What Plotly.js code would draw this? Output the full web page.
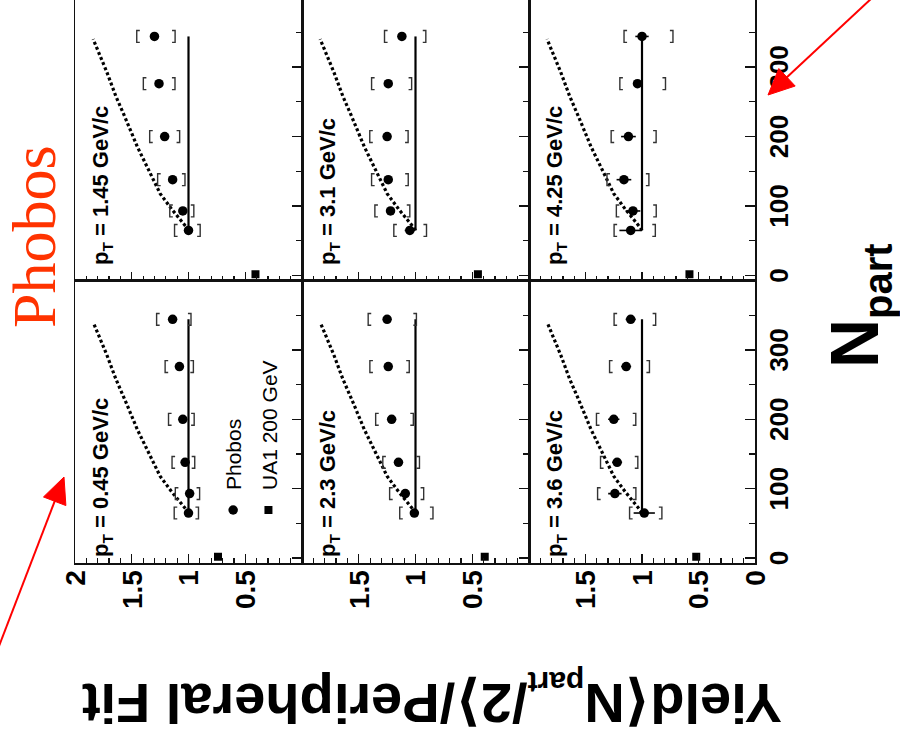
<!DOCTYPE html>
<html>
<head>
<meta charset="utf-8">
<script src="https://cdn.plot.ly/plotly-3.0.1.min.js"></script>
<style>
  html, body { margin: 0; padding: 0; width: 900px; height: 742px; overflow: hidden; background: #fff; }
  #stage { position: absolute; left: 0; top: 0; width: 900px; height: 742px; overflow: hidden; background: #fff; }
  /* the figure is laid out upright (800 x 900) and turned a quarter turn counter-clockwise */
  #chart { position: absolute; left: 0; top: 0; width: 800px; height: 900px;
           transform-origin: 0 0; transform: translate(0, 742px) rotate(-90deg); }
</style>
</head>
<body>
<div id="stage"><div id="chart"></div></div>
<script>
// ---- data ---------------------------------------------------------------
const NPART = [65, 93, 138, 200, 276, 344];
const PT_BINS = ['0.45', '1.45', '2.3', '3.1', '3.6', '4.25'];

// yield / <Npart/2> / peripheral fit, one array per pT bin (ordered as NPART)
const RATIO_PT045 = [1.00, 0.99, 1.03, 1.05, 1.08, 1.14];
const RATIO_PT145 = [1.00, 1.05, 1.14, 1.21, 1.26, 1.30];
const RATIO_PT230 = [1.01, 1.09, 1.15, 1.21, 1.24, 1.25];
const RATIO_PT310 = [1.05, 1.22, 1.24, 1.25, 1.24, 1.12];
const RATIO_PT360 = [0.98, 1.24, 1.22, 1.25, 1.14, 1.10];
const RATIO_PT425 = [1.10, 1.08, 1.16, 1.12, 1.04, 1.00];

// statistical errors
const STAT_PT045 = [0.010, 0.010, 0.010, 0.010, 0.010, 0.010];
const STAT_PT145 = [0.015, 0.015, 0.015, 0.015, 0.015, 0.015];
const STAT_PT230 = [0.020, 0.020, 0.020, 0.020, 0.020, 0.020];
const STAT_PT310 = [0.045, 0.030, 0.030, 0.030, 0.030, 0.030];
const STAT_PT360 = [0.094, 0.059, 0.044, 0.050, 0.044, 0.044];
const STAT_PT425 = [0.100, 0.065, 0.065, 0.065, 0.040, 0.059];

// systematic errors (upper / lower), drawn as brackets
const SYS_UP_PT045 = [0.126, 0.126, 0.115, 0.126, 0.126, 0.141];
const SYS_DN_PT045 = [0.088, 0.088, 0.085, 0.100, 0.123, 0.162];
const SYS_UP_PT145 = [0.123, 0.115, 0.132, 0.132, 0.138, 0.156];
const SYS_DN_PT145 = [0.103, 0.097, 0.109, 0.132, 0.141, 0.182];
const SYS_UP_PT230 = [0.129, 0.138, 0.138, 0.141, 0.162, 0.167];
const SYS_DN_PT230 = [0.164, 0.162, 0.185, 0.191, 0.185, 0.258];
const SYS_UP_PT310 = [0.141, 0.138, 0.147, 0.153, 0.147, 0.153];
const SYS_DN_PT310 = [0.147, 0.170, 0.176, 0.185, 0.206, 0.211];
const SYS_UP_PT360 = [0.130, 0.153, 0.147, 0.153, 0.147, 0.147];
const SYS_DN_PT360 = [0.156, 0.186, 0.183, 0.195, 0.206, 0.221];
const SYS_UP_PT425 = [0.147, 0.147, 0.150, 0.153, 0.156, 0.159];
const SYS_DN_PT425 = [0.218, 0.206, 0.221, 0.245, 0.248, 0.274];

// UA1 p+pbar at 200 GeV, one value per pT bin (ordered as PT_BINS)
const UA1_NPART = 2;
const UA1_RATIO = [0.74, 0.41, 0.39, 0.45, 0.52, 0.58];

// Ncoll scaling expectation (dotted curve) and Npart scaling (solid line)
const NCOLL_NPART = [65, 70, 82, 96, 118, 152, 185, 228, 258, 293, 317, 340];
const NCOLL_RATIO = [1.00, 1.02, 1.08, 1.15, 1.25, 1.35, 1.45, 1.56, 1.64, 1.72, 1.78, 1.84];
const NPART_SCALING = 1;

// axis ticks: labelled ratio values differ per row of panels
const NPART_TICKS = [0, 100, 200, 300];
const RATIO_TICKS_BY_ROW = [
  [0.5, 1, 1.5, 2],
  [0.5, 1, 1.5],
  [0, 0.5, 1, 1.5]
];

// ---- layout constants ------------------------------------------------------
const W = 800, H = 900;
const SANS = 'Liberation Sans, Arial, Helvetica, DejaVu Sans, sans-serif';
const COLS = [[179 / W, 461.5 / W], [461.5 / W, 744.5 / W]];
const ROWS = [[1 - 302 / H, 1 - 75 / H], [1 - 529 / H, 1 - 302 / H], [1 - 755 / H, 1 - 529 / H]];
const ROW_TOPS = [75, 302, 529];
const NPART_RANGE = [-7, 400];
const RATIO_RANGE = [0, 2];
const BRACKET_HALF = 8.5;   // Npart units
const BRACKET_TIP = 0.027;  // ratio units
const INK = '#111';

// lowered, smaller run of text (subscript) without an extra baseline-reset node
const lowered = (txt, size, shift) =>
  '<span style="font-size:' + size + 'px;baseline-shift:-' + shift + 'px">' + txt + '</span>';

const panels = [
  { pt: PT_BINS[0], ratio: RATIO_PT045, stat: STAT_PT045, up: SYS_UP_PT045, dn: SYS_DN_PT045, ua1: UA1_RATIO[0] },
  { pt: PT_BINS[1], ratio: RATIO_PT145, stat: STAT_PT145, up: SYS_UP_PT145, dn: SYS_DN_PT145, ua1: UA1_RATIO[1] },
  { pt: PT_BINS[2], ratio: RATIO_PT230, stat: STAT_PT230, up: SYS_UP_PT230, dn: SYS_DN_PT230, ua1: UA1_RATIO[2] },
  { pt: PT_BINS[3], ratio: RATIO_PT310, stat: STAT_PT310, up: SYS_UP_PT310, dn: SYS_DN_PT310, ua1: UA1_RATIO[3] },
  { pt: PT_BINS[4], ratio: RATIO_PT360, stat: STAT_PT360, up: SYS_UP_PT360, dn: SYS_DN_PT360, ua1: UA1_RATIO[4] },
  { pt: PT_BINS[5], ratio: RATIO_PT425, stat: STAT_PT425, up: SYS_UP_PT425, dn: SYS_DN_PT425, ua1: UA1_RATIO[5] }
];

// systematic brackets: a bar with two short tips at each end of the band
function bracketPath(npart, ratio, up, dn) {
  const xs = [], ys = [];
  npart.forEach((n, i) => {
    const hi = ratio[i] + up[i], lo = ratio[i] - dn[i];
    xs.push(n - BRACKET_HALF, n - BRACKET_HALF, n + BRACKET_HALF, n + BRACKET_HALF, null);
    ys.push(hi - BRACKET_TIP, hi, hi, hi - BRACKET_TIP, null);
    xs.push(n - BRACKET_HALF, n - BRACKET_HALF, n + BRACKET_HALF, n + BRACKET_HALF, null);
    ys.push(lo + BRACKET_TIP, lo, lo, lo + BRACKET_TIP, null);
  });
  return { xs, ys };
}

// red pointer: a shaft and a filled head, given in page pixels of the upright figure
function pointer(tip, tail, headLen, headHalf) {
  const dx = tip[0] - tail[0], dy = tip[1] - tail[1];
  const len = Math.hypot(dx, dy), ux = dx / len, uy = dy / len;
  const bx = tip[0] - ux * headLen, by = tip[1] - uy * headLen;
  const px = x => x / W, py = y => 1 - y / H;
  const c1 = [bx - uy * headHalf, by + ux * headHalf], c2 = [bx + uy * headHalf, by - ux * headHalf];
  return [
    { type: 'line', xref: 'paper', yref: 'paper', x0: px(tail[0]), y0: py(tail[1]),
      x1: px(tip[0] - ux * headLen * 0.6), y1: py(tip[1] - uy * headLen * 0.6),
      line: { color: '#ff0000', width: 2 } },
    { type: 'path', xref: 'paper', yref: 'paper',
      path: 'M' + px(tip[0]) + ',' + py(tip[1]) + ' L' + px(c1[0]) + ',' + py(c1[1]) +
            ' L' + px(c2[0]) + ',' + py(c2[1]) + ' Z',
      fillcolor: '#ff0000', line: { color: '#ff0000', width: 1 } }
  ];
}

const traces = [];
const layout = {
  width: W, height: H,
  margin: { l: 0, r: 0, t: 0, b: 0 },
  paper_bgcolor: '#fff', plot_bgcolor: '#fff',
  showlegend: true,
  legend: {
    x: 212 / W, y: 1 - 213 / H, xanchor: 'left', yanchor: 'top',
    bgcolor: 'rgba(0,0,0,0)', borderwidth: 0, tracegroupgap: 5,
    font: { family: SANS, size: 21, color: '#000' }
  },
  annotations: [],
  shapes: []
};

panels.forEach((p, i) => {
  const row = Math.floor(i / 2), col = i % 2;
  const sfx = i === 0 ? '' : String(i + 1);
  const xa = 'x' + sfx, ya = 'y' + sfx;

  layout['xaxis' + sfx] = {
    domain: COLS[col], anchor: ya, range: NPART_RANGE,
    tickmode: 'array', tickvals: NPART_TICKS,
    showticklabels: row === 2,
    ticks: 'inside', ticklen: 10, tickwidth: 1.3, tickcolor: INK,
    minor: { tickmode: 'linear', tick0: 0, dtick: 50, ticks: 'inside', ticklen: 6, tickwidth: 1.2, tickcolor: INK, showgrid: false },
    showline: true, mirror: true, linecolor: INK, linewidth: 1.5,
    showgrid: false, zeroline: false, fixedrange: true,
    tickfont: { family: SANS, size: 26, color: '#000', weight: 'bold' }
  };
  layout['yaxis' + sfx] = {
    domain: ROWS[row], anchor: xa, range: RATIO_RANGE,
    tickmode: 'array', tickvals: RATIO_TICKS_BY_ROW[row],
    showticklabels: col === 0,
    ticks: 'inside', ticklen: 9, tickwidth: 1.3, tickcolor: INK,
    minor: { tickmode: 'linear', tick0: 0, dtick: 0.1, ticks: 'inside', ticklen: 5, tickwidth: 1.2, tickcolor: INK, showgrid: false },
    showline: true, mirror: true, linecolor: INK, linewidth: 1.5,
    showgrid: false, zeroline: false, fixedrange: true,
    tickfont: { family: SANS, size: 28, color: '#000', weight: 'bold' }
  };

  // Ncoll scaling curve
  traces.push({
    x: NCOLL_NPART, y: NCOLL_RATIO, xaxis: xa, yaxis: ya, type: 'scatter', mode: 'lines',
    line: { color: '#000', width: 3.2, dash: '3px,2.5px' }, showlegend: false, hoverinfo: 'skip'
  });
  // Npart scaling line
  traces.push({
    x: [NPART[0], NPART[NPART.length - 1]], y: [NPART_SCALING, NPART_SCALING],
    xaxis: xa, yaxis: ya, type: 'scatter', mode: 'lines',
    line: { color: '#000', width: 2.2 }, showlegend: false, hoverinfo: 'skip'
  });
  // systematic brackets
  const b = bracketPath(NPART, p.ratio, p.up, p.dn);
  traces.push({
    x: b.xs, y: b.ys, xaxis: xa, yaxis: ya, type: 'scatter', mode: 'lines',
    line: { color: '#333', width: 1.4 }, connectgaps: false, showlegend: false, hoverinfo: 'skip'
  });
  // Phobos points
  traces.push({
    x: NPART, y: p.ratio, xaxis: xa, yaxis: ya, type: 'scatter', mode: 'markers',
    name: 'Phobos', legendgroup: 'phobos', showlegend: i === 0,
    marker: { symbol: 'circle', size: 9.5, color: '#000' },
    error_y: { type: 'data', array: p.stat, symmetric: true, width: 0, thickness: 1.6, color: '#000' }
  });
  // UA1 reference
  traces.push({
    x: [UA1_NPART], y: [p.ua1], xaxis: xa, yaxis: ya, type: 'scatter', mode: 'markers',
    name: 'UA1 200 GeV', legendgroup: 'ua1', showlegend: i === 0,
    marker: { symbol: 'square', size: 8, color: '#000' }
  });

  // pT label in the upper-left corner of each panel
  const xStart = col === 0 ? 183 : 475;
  layout.annotations.push({
    xref: 'paper', yref: 'paper', x: xStart / W, y: 1 - (ROW_TOPS[row] + 27) / H,
    xanchor: 'left', yanchor: 'middle', showarrow: false,
    text: 'p' + lowered('T', 15.4, 4.6) + ' = ' + p.pt + ' GeV/c',
    font: { family: SANS, size: 22, color: '#000', weight: 'bold' }
  });
});

// axis titles
layout.annotations.push({
  xref: 'paper', yref: 'paper', x: 41 / W, y: 1 - 432 / H,
  xanchor: 'center', yanchor: 'middle', showarrow: false, textangle: -90,
  text: 'Yield\u27e8N' + lowered('part', 30, 12) + '/2\u27e9/Peripheral Fit',
  font: { family: SANS, size: 56, color: '#000', weight: 'bold' }
});
layout.annotations.push({
  xref: 'paper', yref: 'paper', x: 436 / W, y: 1 - 858 / H,
  xanchor: 'center', yanchor: 'middle', showarrow: false,
  text: 'N' + lowered('part', 40, 14),
  font: { family: SANS, size: 68, color: '#000', weight: 'bold' }
});

// experiment tag and pointers
layout.annotations.push({
  xref: 'paper', yref: 'paper', x: 505 / W, y: 1 - 34 / H,
  xanchor: 'center', yanchor: 'middle', showarrow: false,
  text: 'Phobos',
  font: { family: 'Liberation Serif, Times New Roman, serif', size: 62, color: '#ff3300' }
});
layout.shapes.push(...pointer([265, 64], [75, -9], 26, 12));
layout.shapes.push(...pointer([647, 768], [787, 918], 26, 12));

Plotly.newPlot('chart', traces, layout, { staticPlot: true, displayModeBar: false });
</script>
</body>
</html>
